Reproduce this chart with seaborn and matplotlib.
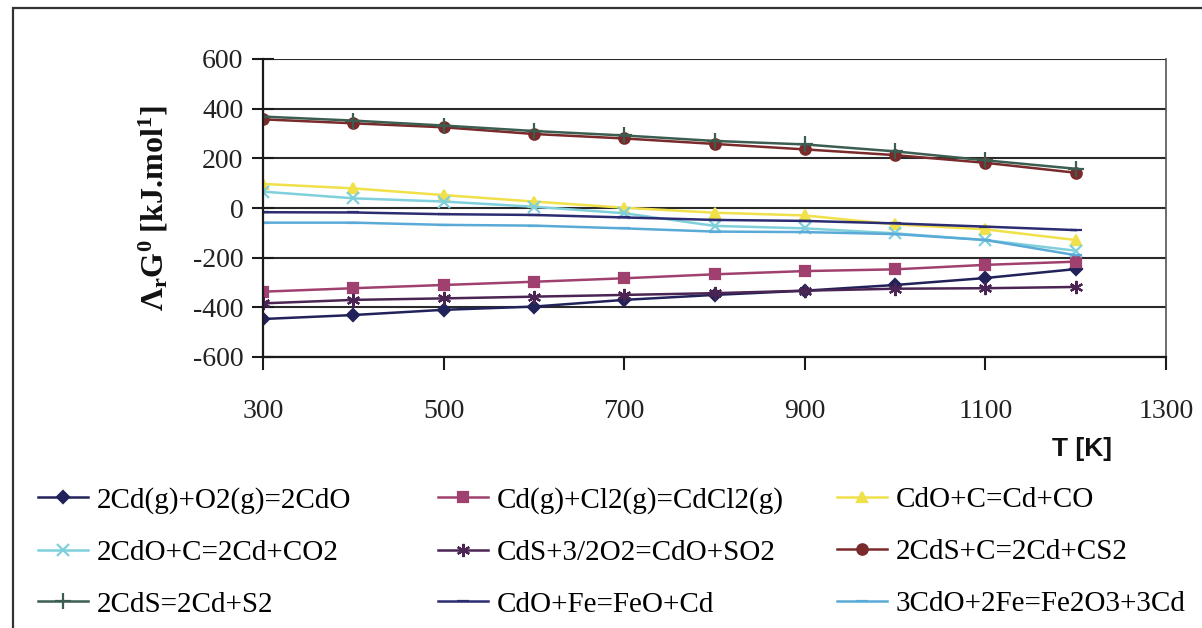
import matplotlib
matplotlib.use("Agg")
import matplotlib.pyplot as plt
from matplotlib.patches import Rectangle
import seaborn as sns
import pandas as pd

T = [300, 400, 500, 600, 700, 800, 900, 1000, 1100, 1200]

labels = [
    "2Cd(g)+O2(g)=2CdO",
    "Cd(g)+Cl2(g)=CdCl2(g)",
    "CdO+C=Cd+CO",
    "2CdO+C=2Cd+CO2",
    "CdS+3/2O2=CdO+SO2",
    "2CdS+C=2Cd+CS2",
    "2CdS=2Cd+S2",
    "CdO+Fe=FeO+Cd",
    "3CdO+2Fe=Fe2O3+3Cd",
]

s1 = [-447, -431, -410, -397, -370, -350, -333, -310, -282, -246]
s2 = [-337, -323, -310, -297, -283, -267, -254, -247, -229, -216]
s3 = [97, 79, 52, 26, 1, -19, -30, -66, -86, -129]
s4 = [66, 39, 26, 5, -21, -72, -82, -102, -129, -172]
s5 = [-384, -370, -364, -357, -350, -343, -333, -325, -323, -318]
s6 = [357, 341, 325, 298, 280, 258, 236, 213, 182, 142]
s7 = [368, 352, 332, 310, 292, 270, 256, 228, 192, 158]
s8 = [-17, -18, -25, -28, -38, -48, -52, -62, -75, -89]
s9 = [-59, -59, -68, -71, -82, -95, -97, -105, -129, -190]

series = [s1, s2, s3, s4, s5, s6, s7, s8, s9]

colors = ["#22225a", "#a0406e", "#f0e04a", "#80d0dc", "#4a2452",
          "#7a2a2a", "#3c5e50", "#2c2c72", "#5aaad8"]
markers = ["D", "s", "^", "x", (6, 2, 0), "o", "+", "_", "_"]
msizes = [6.5, 7.5, 7.5, 8, 9.5, 7.5, 11, 8, 8]

serif = "Liberation Serif"
plt.rcParams["axes.unicode_minus"] = False
plt.rcParams["mathtext.fontset"] = "custom"
plt.rcParams["mathtext.rm"] = serif
plt.rcParams["mathtext.it"] = serif + ":italic"
plt.rcParams["mathtext.bf"] = serif + ":bold"

fig = plt.figure(figsize=(12.02, 6.28), dpi=100)
ax = fig.add_axes([263 / 1202, 1 - 357 / 628, (1166 - 263) / 1202, (357 - 59) / 628])

for vals, lab, c, m, ms in zip(series, labels, colors, markers, msizes):
    df = pd.DataFrame({"T": T, "G": vals})
    sns.lineplot(data=df, x="T", y="G", ax=ax, color=c, marker=m, markersize=ms,
                 markeredgecolor=c, markeredgewidth=1.6, linewidth=1.8, label=lab,
                 legend=False)

ax.set_xlim(300, 1300)
ax.set_ylim(-600, 600)
ax.set_xticks([300, 500, 700, 900, 1100, 1300])
ax.set_yticks([-600, -400, -200, 0, 200, 400, 600])
ax.yaxis.grid(True, color="#2a2a2a", linewidth=1.5)
ax.xaxis.grid(False)
ax.set_axisbelow(True)
for side in ["left", "bottom"]:
    ax.spines[side].set_color("#1a1a1a")
    ax.spines[side].set_linewidth(1.6)
ax.spines["top"].set_visible(False)
ax.spines["right"].set_color("#555555")
ax.spines["right"].set_linewidth(1.2)

ax.tick_params(axis="x", direction="out", length=9, width=1.5, pad=21,
               labelsize=20, colors="#1a1a1a")
ax.tick_params(axis="y", direction="inout", length=16, width=1.5, pad=6,
               labelsize=20, colors="#1a1a1a")
for t in ax.get_xticklabels() + ax.get_yticklabels():
    t.set_fontfamily(serif)
    t.set_color("#222222")

ax.set_xlabel("T [K]", fontsize=19, fontweight="bold", family="Liberation Sans", color="#111111")
ax.xaxis.set_label_coords((1082 - 263) / 903, (357 - 437) / 298)
ax.set_ylabel(r"$\mathbf{\Lambda}_{\mathbf{r}}\mathbf{G}^{\mathbf{0}}$ [kJ.mol$^{\mathbf{1}}$]",
              fontsize=23, fontweight="bold", family=serif, color="#111111")
ax.yaxis.set_label_coords((170 - 263) / 903, 0.5)

# outer chart frame
fig.patches.append(Rectangle((13 / 1202, -0.2), 1.2, 1 - 8 / 628 + 0.2,
                             transform=fig.transFigure, fill=False,
                             edgecolor="#333333", linewidth=1.6))

handles, labs = ax.get_legend_handles_labels()
col_x = [38 / 1202, 438 / 1202, 837 / 1202]
for ci in range(3):
    idx = [ci, ci + 3, ci + 6]
    fig.legend([handles[i] for i in idx], [labs[i] for i in idx],
               loc="upper left", bbox_to_anchor=(col_x[ci], 1 - 487 / 628),
               frameon=False, prop={"family": serif, "size": 21},
               handlelength=1.7, handletextpad=0.3, labelspacing=0.87,
               borderaxespad=0, borderpad=0)

fig.savefig("out.png", dpi=100)
